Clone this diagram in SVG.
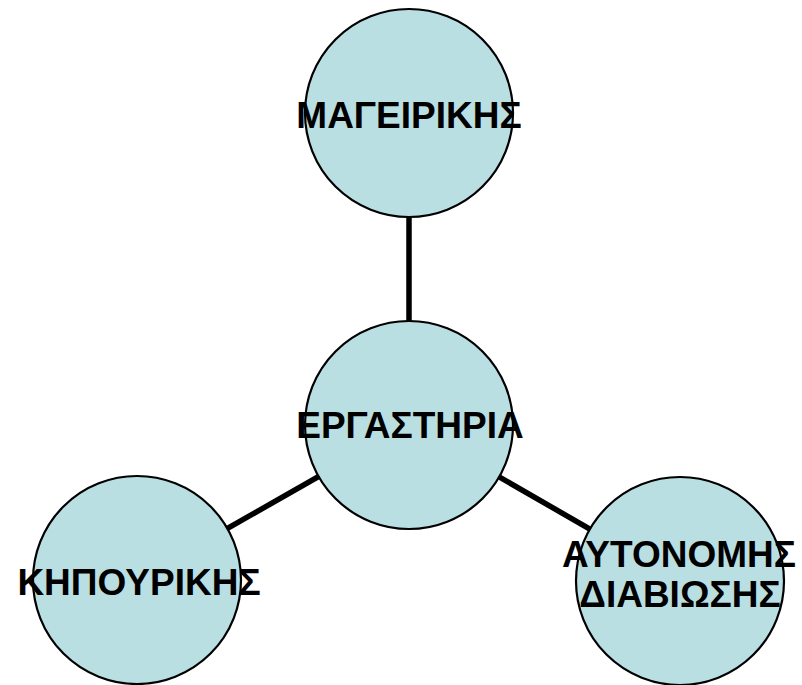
<svg xmlns="http://www.w3.org/2000/svg" width="802" height="685" viewBox="0 0 802 685">
<style>
.node circle{fill:#B9DFE3;stroke:#000;stroke-width:2.2}
.node text{font-family:"Liberation Sans",Arial,sans-serif;font-weight:bold;font-size:37px;fill:#000;text-anchor:middle}
.conn line{stroke:#000;stroke-width:5.5}
</style>
<rect width="802" height="685" fill="#fff"/>
<g id="connectors" class="conn">
<line x1="409" y1="217" x2="409" y2="321"/>
<line x1="409" y1="425" x2="137" y2="580"/>
<line x1="409" y1="425" x2="680" y2="581"/>
</g>
<g id="mageirikis" class="node"><circle cx="409" cy="113" r="104"/><text x="409" y="128">ΜΑΓΕΙΡΙΚΗΣ</text></g>
<g id="ergastiria" class="node"><circle cx="409" cy="425" r="104"/><text x="410" y="438">ΕΡΓΑΣΤΗΡΙΑ</text></g>
<g id="kipourikis" class="node"><circle cx="137" cy="580" r="104"/><text x="139" y="595">ΚΗΠΟΥΡΙΚΗΣ</text></g>
<g id="autonomis" class="node"><circle cx="680" cy="581" r="104"/><text x="679" y="567">ΑΥΤΟΝΟΜΗΣ</text><text x="680" y="607">ΔΙΑΒΙΩΣΗΣ</text></g>
</svg>
